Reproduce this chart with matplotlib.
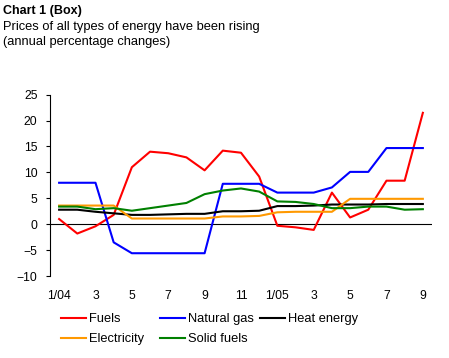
import matplotlib
matplotlib.use("Agg")
import matplotlib.pyplot as plt

plt.rcParams["font.family"] = ["Liberation Sans", "DejaVu Sans"]

months = ["1/04", "2", "3", "4", "5", "6", "7", "8", "9", "10", "11", "12",
          "1/05", "2", "3", "4", "5", "6", "7", "8", "9"]
fuels = [1.0, -1.8, -0.4, 1.8, 11.0, 14.0, 13.7, 12.9, 10.4, 14.2, 13.8,
         9.2, -0.3, -0.6, -1.1, 6.1, 1.3, 2.8, 8.4, 8.4, 21.5]
natural_gas = [8.0, 8.0, 8.0, -3.5, -5.6, -5.6, -5.6, -5.6, -5.6, 7.8, 7.8,
               7.8, 6.1, 6.1, 6.1, 7.1, 10.1, 10.1, 14.7, 14.7, 14.7]
heat_energy = [2.8, 2.8, 2.4, 2.1, 1.8, 1.8, 1.9, 2.0, 2.0, 2.5, 2.5,
               2.6, 3.5, 3.5, 3.6, 3.8, 3.8, 3.8, 3.9, 3.9, 3.9]
electricity = [3.6, 3.6, 3.6, 3.6, 1.1, 1.1, 1.1, 1.1, 1.1, 1.5, 1.5,
               1.6, 2.3, 2.4, 2.4, 2.4, 4.9, 4.9, 4.9, 4.9, 4.9]
solid_fuels = [3.4, 3.4, 2.9, 3.1, 2.6, 3.1, 3.6, 4.1, 5.8, 6.5, 6.9,
               6.3, 4.4, 4.3, 3.9, 3.1, 3.1, 3.4, 3.4, 2.8, 2.9]

x = list(range(len(months)))

fig = plt.figure(figsize=(4.49, 3.58), dpi=100)
ax = fig.add_axes([0.1114, 0.229, 0.8506, 0.5065])

ax.axhline(0, color="black", lw=0.8, zorder=1)
l_fu, = ax.plot(x, fuels, color="#FF0000", lw=1.5, label="Fuels")
l_ng, = ax.plot(x, natural_gas, color="#0000FF", lw=1.5, label="Natural gas")
l_he, = ax.plot(x, heat_energy, color="black", lw=1.5, label="Heat energy")
l_el, = ax.plot(x, electricity, color="#FF9900", lw=1.5, label="Electricity")
l_sf, = ax.plot(x, solid_fuels, color="#008000", lw=1.5, label="Solid fuels")

ax.set_xlim(-0.5, 20.5)
ax.set_ylim(-10, 25)
ax.set_yticks(range(-10, 26, 5))
ax.set_xticks(x[::2])
ax.set_xticklabels(months[::2])
ax.tick_params(axis="x", length=0, pad=10, labelsize=8.7)
ax.tick_params(axis="y", length=3, width=0.8, direction="out", labelsize=8.7, pad=6)
for s in ["top", "right", "bottom"]:
    ax.spines[s].set_visible(False)
ax.spines["left"].set_linewidth(0.8)

fig.text(0.007, 0.987, "Chart 1 (Box)", fontsize=9, fontweight="bold", va="top")
fig.text(0.007, 0.94, "Prices of all types of energy have been rising\n(annual percentage changes)",
         fontsize=9.25, va="top", linespacing=1.25)

# legend laid out in fixed columns like the original
columns = [([l_fu, l_el], 0.136), ([l_ng, l_sf], 0.356), ([l_he], 0.579)]
for handles, xpos in columns:
    fig.legend(handles=handles, loc="upper left", bbox_to_anchor=(xpos, 0.125),
               frameon=False, fontsize=9.25, handlelength=1.95, handletextpad=0.25,
               labelspacing=0.62, borderpad=0, borderaxespad=0)

fig.savefig("out.png", dpi=100)
